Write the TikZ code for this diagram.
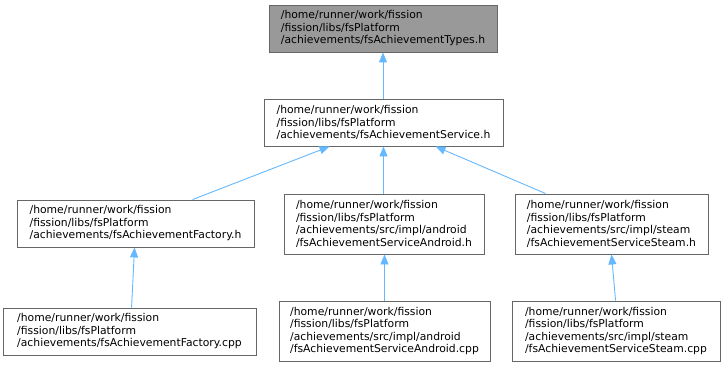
\documentclass[tikz,border=0pt]{standalone}
\usepackage{fontspec}
\setmainfont{DejaVu Sans}
\usetikzlibrary{arrows.meta,calc}
\definecolor{edgeblue}{HTML}{63B8FF}
\definecolor{boxborder}{HTML}{666666}
\definecolor{topfill}{HTML}{999999}
\begin{document}
\begin{tikzpicture}[x=1pt,y=1pt,
  filebox/.style={draw=boxborder, line width=0.9pt, fill=white, rectangle, align=left,
    inner sep=0pt, font=\fontsize{10.8}{12.5}\selectfont},
  dep/.style={draw=edgeblue, line width=0.9pt, -{Triangle[length=10pt,width=8pt]}}]
\useasboundingbox (0,0) rectangle (726,365);
\node[filebox, fill=topfill, minimum width=228, minimum height=47] (b1) at (383,336.5)
  {/home/runner/work/fission\\/fission/libs/fsPlatform\\/achievements/fsAchievementTypes.h};
\node[filebox, minimum width=239, minimum height=47] (b2) at (383.5,242.5)
  {/home/runner/work/fission\\/fission/libs/fsPlatform\\/achievements/fsAchievementService.h};
\node[filebox, minimum width=237, minimum height=47] (b3) at (135.5,141.5)
  {/home/runner/work/fission\\/fission/libs/fsPlatform\\/achievements/fsAchievementFactory.h};
\node[filebox, minimum width=200, minimum height=60] (b4) at (384,141)
  {/home/runner/work/fission\\/fission/libs/fsPlatform\\/achievements/src/impl/android\\/fsAchievementServiceAndroid.h};
\node[filebox, minimum width=193, minimum height=60] (b5) at (611.5,141)
  {/home/runner/work/fission\\/fission/libs/fsPlatform\\/achievements/src/impl/steam\\/fsAchievementServiceSteam.h};
\node[filebox, minimum width=253, minimum height=47] (b6) at (129.5,33.5)
  {/home/runner/work/fission\\/fission/libs/fsPlatform\\/achievements/fsAchievementFactory.cpp};
\node[filebox, minimum width=211, minimum height=60] (b7) at (384.5,34)
  {/home/runner/work/fission\\/fission/libs/fsPlatform\\/achievements/src/impl/android\\/fsAchievementServiceAndroid.cpp};
\node[filebox, minimum width=208, minimum height=60] (b8) at (616,34)
  {/home/runner/work/fission\\/fission/libs/fsPlatform\\/achievements/src/impl/steam\\/fsAchievementServiceSteam.cpp};
\draw[dep] (b2.north -| b1.south) -- (b1.south);
\draw[dep] ($(b3.north west)+(176,0)$) -- ($(b2.south west)+(66,0)$);
\draw[dep] (b4.north -| b2.south) -- (b2.south);
\draw[dep] ($(b5.north west)+(31,0)$) -- ($(b2.south west)+(172,0)$);
\draw[dep] ($(b6.north west)+(129,0)$) -- ($(b3.south west)+(118,0)$);
\draw[dep] (b7.north) -- (b4.south -| b7.north);
\draw[dep] ($(b8.north west)+(104,0)$) -- ($(b5.south west)+(97,0)$);
\end{tikzpicture}
\end{document}
